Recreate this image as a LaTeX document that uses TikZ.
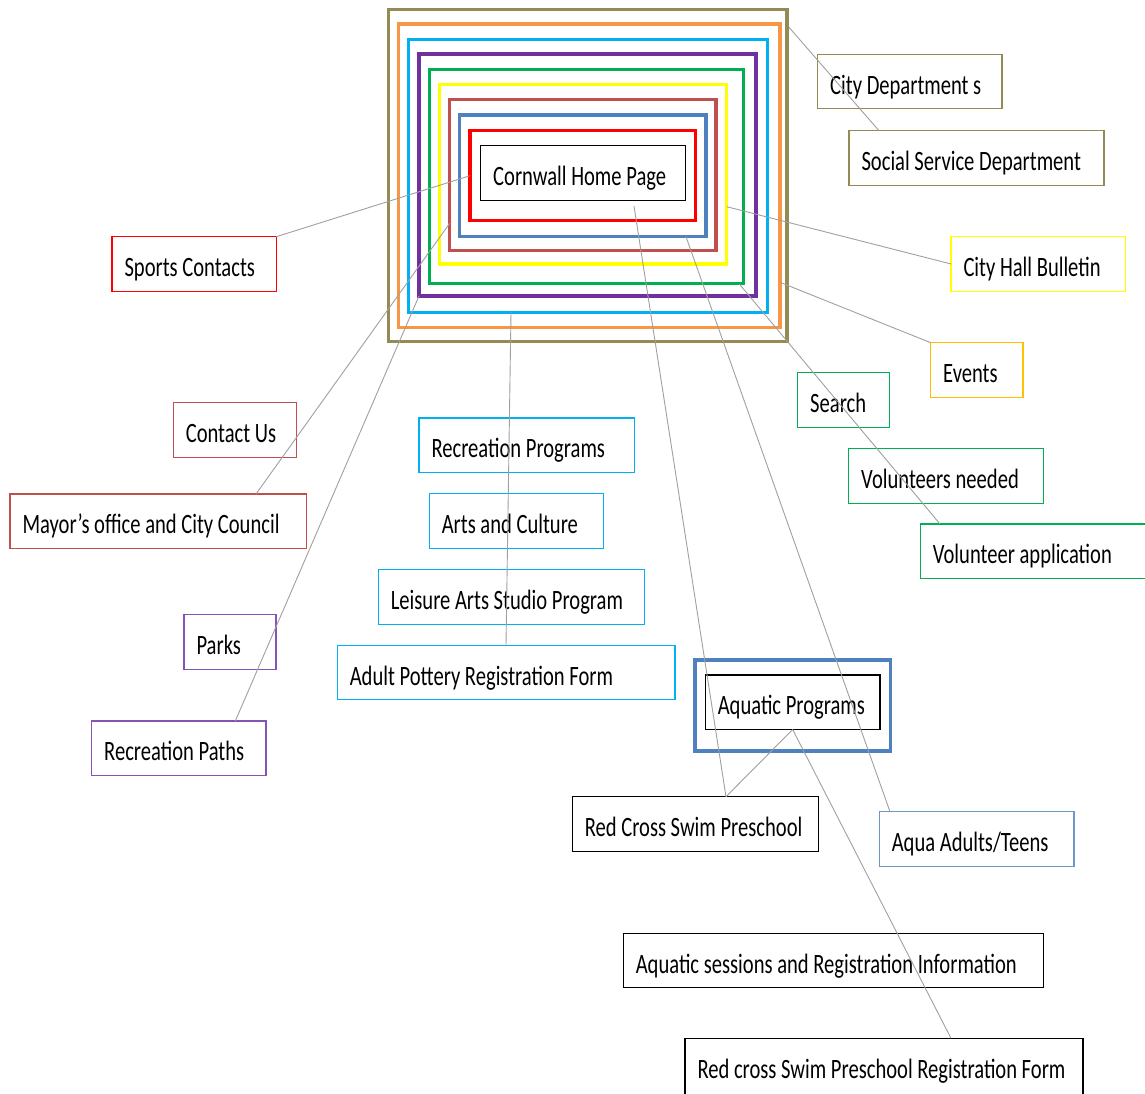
\documentclass[tikz,border=0pt]{standalone}
\usepackage{fontspec}
\setmainfont{Carlito}[FakeStretch=0.735]
\usetikzlibrary{calc}

\definecolor{cOlive}{HTML}{948A54}
\definecolor{cOrange}{HTML}{F79646}
\definecolor{cCyan}{HTML}{00B0F0}
\definecolor{cPurple}{HTML}{7030A0}
\definecolor{cPurpleL}{HTML}{8553B5}
\definecolor{cGreen}{HTML}{00B050}
\definecolor{cYellow}{HTML}{FFFF00}
\definecolor{cAmber}{HTML}{FFC000}
\definecolor{cBrick}{HTML}{C0504D}
\definecolor{cSteel}{HTML}{4F81BD}
\definecolor{cSteelL}{HTML}{6F96C8}
\definecolor{cRed}{HTML}{FF0000}
\definecolor{cLink}{HTML}{A0A0A0}

% label box: first argument is the full box width in pt
\newcommand\wtxt[2]{\makebox[\dimexpr#1pt-25pt\relax][l]{#2}}

\tikzset{
  labelbox/.style={draw, line width=1.2pt, inner xsep=12.5pt, inner ysep=0pt,
    outer sep=0pt, minimum height=54.5pt, anchor=north west,
    text height=25pt, text depth=0pt, font=\fontsize{28}{30}\selectfont},
  frame/.style={draw, line width=3.5pt, inner sep=0pt, outer sep=0pt, anchor=north west},
  link/.style={draw=cLink, line width=0.9pt}
}

\begin{document}
\begin{tikzpicture}[x=1pt,y=-1pt]
\fill[white] (0,0) rectangle (1145,1093);
\useasboundingbox (0,0) rectangle (1145,1093);

% nested frames around the home page
\node[frame, draw=cOlive,  minimum width=398.7pt, minimum height=332.4pt] (fOlive)  at (388.3,9.3)  {};
\node[frame, draw=cOrange, minimum width=381.7pt, minimum height=303.3pt] (fOrange) at (398.3,24)   {};
\node[frame, draw=cCyan,   minimum width=359.4pt, minimum height=273pt]   (fCyan)   at (408.3,39.3) {};
\node[frame, draw=cPurple, minimum width=337pt,   minimum height=242pt]   (fPurple) at (419,54)     {};
\node[frame, draw=cGreen,  minimum width=314pt,   minimum height=214pt]   (fGreen)  at (429.3,69.3) {};
\node[frame, draw=cYellow, minimum width=287.4pt, minimum height=179.7pt] (fYellow) at (439.3,84.3) {};
\node[frame, draw=cBrick,  minimum width=266.3pt, minimum height=151.4pt] (fBrick)  at (449.7,99.3) {};
\node[frame, draw=cSteel,  minimum width=246.3pt, minimum height=121.7pt] (fSteel)  at (459.7,115)  {};
\node[frame, draw=cRed,    minimum width=225.3pt, minimum height=90pt]    (fRed)    at (470,130.7)  {};
\node[labelbox, draw=black] (cornwall) at (480.7,145.7) {\wtxt{204.6}{Cornwall Home Page}};

% left column
\node[labelbox, draw=cRed]     (sports)   at (112,236.7)  {\wtxt{164.3}{Sports Contacts}};
\node[labelbox, draw=cBrick]   (contact)  at (173.3,402.7) {\wtxt{123}{Contact Us}};
\node[labelbox, draw=cBrick]   (mayor)    at (10,494)     {\wtxt{296.3}{Mayor’s office and City Council}};
\node[labelbox, draw=cPurpleL] (parks)    at (184,614.7)  {\wtxt{92}{Parks}};
\node[labelbox, draw=cPurpleL] (recpaths) at (91.7,721)   {\wtxt{174.3}{Recreation Paths}};

% middle column
\node[labelbox, draw=cCyan] (recprog) at (419,418)     {\wtxt{215.3}{Recreation Programs}};
\node[labelbox, draw=cCyan] (arts)    at (429.3,493.7) {\wtxt{174}{Arts and Culture}};
\node[labelbox, draw=cCyan] (leisure) at (378.3,569.7) {\wtxt{266}{Leisure Arts Studio Program}};
\node[labelbox, draw=cCyan] (pottery) at (337.3,645.3) {\wtxt{337.7}{Adult Pottery Registration Form}};

% right column
\node[labelbox, draw=cOlive]  (citydep)  at (817.7,54.3)  {\wtxt{184.3}{City Department s}};
\node[labelbox, draw=cOlive]  (social)   at (849,130.7)   {\wtxt{255}{Social Service Department}};
\node[labelbox, draw=cYellow] (cityhall) at (951,236.7)   {\wtxt{174.3}{City Hall Bulletin}};
\node[labelbox, draw=cAmber]  (events)   at (930.7,342.7) {\wtxt{92.3}{Events}};
\node[labelbox, draw=cGreen]  (search)   at (797.7,372.7) {\wtxt{92}{Search}};
\node[labelbox, draw=cGreen]  (volneed)  at (848.7,448.7) {\wtxt{194.6}{Volunteers needed}};
\node[labelbox, draw=cGreen]  (volapp)   at (920.3,524)   {\wtxt{230}{Volunteer application}};

% aquatic group
\node[frame, draw=cSteel, minimum width=195.7pt, minimum height=91pt] (faqua) at (695,660) {};
\node[labelbox, draw=black]   (aquaticin) at (705.3,675)   {\wtxt{174.7}{Aquatic Programs}};
\node[labelbox, draw=black]   (redcross)  at (572.3,796.7) {\wtxt{246}{Red Cross Swim Preschool}};
\node[labelbox, draw=cSteelL] (aqua)      at (879.3,811.7) {\wtxt{194.7}{Aqua Adults/Teens}};
\node[labelbox, draw=black]   (sessions)  at (623.3,933.3) {\wtxt{420}{Aquatic sessions and Registration Information}};
\node[labelbox, draw=black, minimum height=60pt, text height=19.4pt] (form) at (685,1038.3) {\wtxt{398}{Red cross Swim Preschool Registration Form}};

% connectors
\draw[link] ($(fOlive.north east)+(2,18)$) -- ($(social.north west)+(30,0)$);
\draw[link] (sports.north east) -- (fRed.west);
\draw[link] ($(mayor.north west)+(246,0)$) -- ($(fBrick.south west)+(0,-27.4)$);
\draw[link] ($(recpaths.north west)+(143.6,0)$) -- (fPurple.south west);
\draw[link] ($(fCyan.south west)+(102.7,0)$) -- ($(pottery.north west)+(168.7,0)$);
\draw[link] ($(fYellow.north east)+(0,122.4)$) -- (cityhall.west);
\draw[link] ($(fOrange.south east)+(0,-45)$) -- (events.north west);
\draw[link] ($(fGreen.south east)+(-4,0.7)$) -- ($(volapp.north west)+(19.7,0)$);
\draw[link] ($(fSteel.south west)+(226.3,0)$) -- ($(aqua.north west)+(10.7,0)$);
\draw[link] ($(cornwall.south west)+(153.3,6)$) -- ($(redcross.north west)+(153.7,0)$);
\draw[link] (aquaticin.south) -- ($(redcross.north west)+(153.7,0)$);
\draw[link] (aquaticin.south) -- ($(form.north west)+(266,0)$);
\end{tikzpicture}
\end{document}
